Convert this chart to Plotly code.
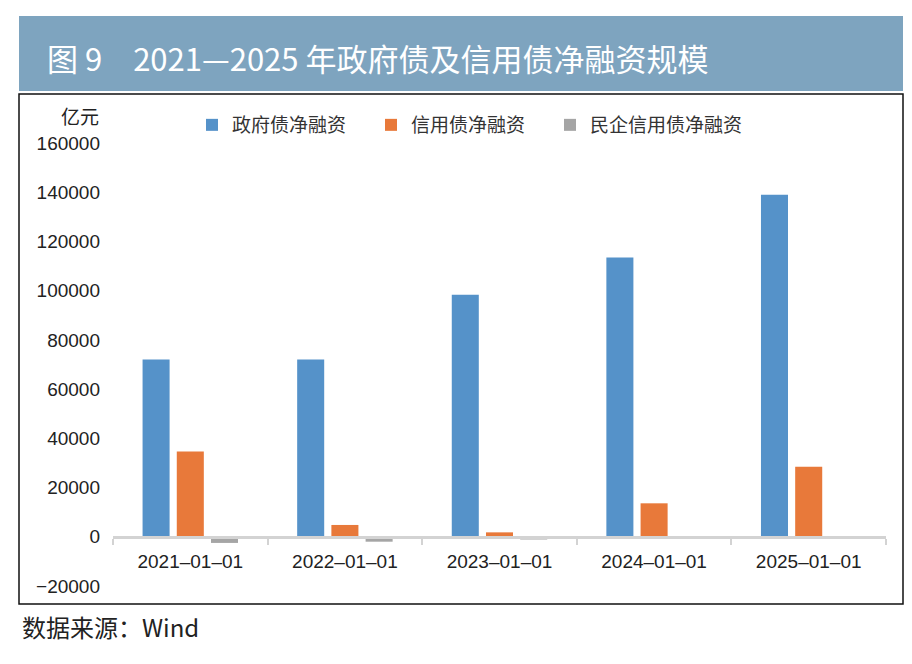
import plotly.graph_objects as go

categories = ["2021–01–01", "2022–01–01", "2023–01–01", "2024–01–01", "2025–01–01"]
series_names = ["政府债净融资", "信用债净融资", "民企信用债净融资"]
gov_bond = [72000, 72000, 98300, 113500, 139000]
credit_bond = [34600, 4800, 1800, 13600, 28500]
private_credit_bond = [-2500, -2000, -1100, -300, -150]
y_ticks = [-20000, 0, 20000, 40000, 60000, 80000, 100000, 120000, 140000, 160000]

colors = ["#5592C9", "#E8793A", "#A5A5A5"]

W, H = 912, 664
L, R, T, B = 113, 26, 143, 78
PW, PH = W - L - R, H - T - B


def px(x):
    return (x - L) / PW


def py(y):
    return (H - B - y) / PH


FONT = "Liberation Sans, Noto Sans CJK SC, sans-serif"
CJK = "Noto Sans CJK SC, sans-serif"

fig = go.Figure()
legends = ["legend", "legend2", "legend3"]
for name, vals, c, lg in zip(series_names, [gov_bond, credit_bond, private_credit_bond], colors, legends):
    fig.add_trace(go.Bar(x=categories, y=vals, name=name, marker=dict(color=c, line=dict(width=0)), legend=lg))

leg_x = [192, 371, 550]
leg_common = dict(orientation="h", yanchor="middle", y=py(125), xanchor="left",
                  font=dict(family=CJK, size=19, color="#333333"), bgcolor="rgba(0,0,0,0)",
                  borderwidth=0)
fig.update_layout(
    legend=dict(x=px(leg_x[0]), **leg_common),
    legend2=dict(x=px(leg_x[1]), **leg_common),
    legend3=dict(x=px(leg_x[2]), **leg_common),
)

fig.update_layout(
    width=W, height=H,
    margin=dict(l=L, r=R, t=T, b=B, pad=0),
    paper_bgcolor="white", plot_bgcolor="white",
    barmode="group", bargap=0.336, bargroupgap=0.21,
    font=dict(family=FONT, size=19, color="#333333"),
    xaxis=dict(type="category", anchor="free", position=20000 / 180000,
               showline=True, linecolor="#D3D3D3", linewidth=3,
               ticks="outside", tickson="boundaries", ticklen=6, tickwidth=2, tickcolor="#D3D3D3",
               showgrid=False, zeroline=False, ticklabelstandoff=6,
               tickfont=dict(family=FONT, size=19, color="#222222")),
    yaxis=dict(range=[-20000, 160000], tickvals=y_ticks, tickformat="d", showgrid=False, zeroline=False,
               showline=False, ticks="", ticklabelstandoff=12,
               tickfont=dict(family=FONT, size=19, color="#222222")),
    showlegend=True,
)

shapes = [
    dict(type="rect", xref="paper", yref="paper", x0=px(19), x1=px(903), y0=py(16), y1=py(91),
         fillcolor="#7EA4BF", line=dict(width=0), layer="below"),
    dict(type="rect", xref="paper", yref="paper", x0=px(19), x1=px(903), y0=py(94), y1=py(604),
         fillcolor="rgba(0,0,0,0)", line=dict(color="#111111", width=1.5), layer="above"),
]
fig.update_layout(shapes=shapes)

annotations = [
    dict(text="图 9　2021—2025 年政府债及信用债净融资规模", xref="paper", yref="paper",
         x=px(45), y=py(57), xanchor="left", yanchor="middle", showarrow=False,
         font=dict(family=CJK, size=31, color="white")),
    dict(text="亿元", xref="paper", yref="paper", x=px(101), y=py(115), xanchor="right",
         yanchor="middle", showarrow=False, font=dict(family=CJK, size=19, color="#222222")),
    dict(text="数据来源：Wind", xref="paper", yref="paper", x=px(20), y=py(626), xanchor="left",
         yanchor="middle", showarrow=False, font=dict(family=CJK, size=24, color="#222222")),
]
fig.update_layout(annotations=annotations)

fig.write_html("out.html")
